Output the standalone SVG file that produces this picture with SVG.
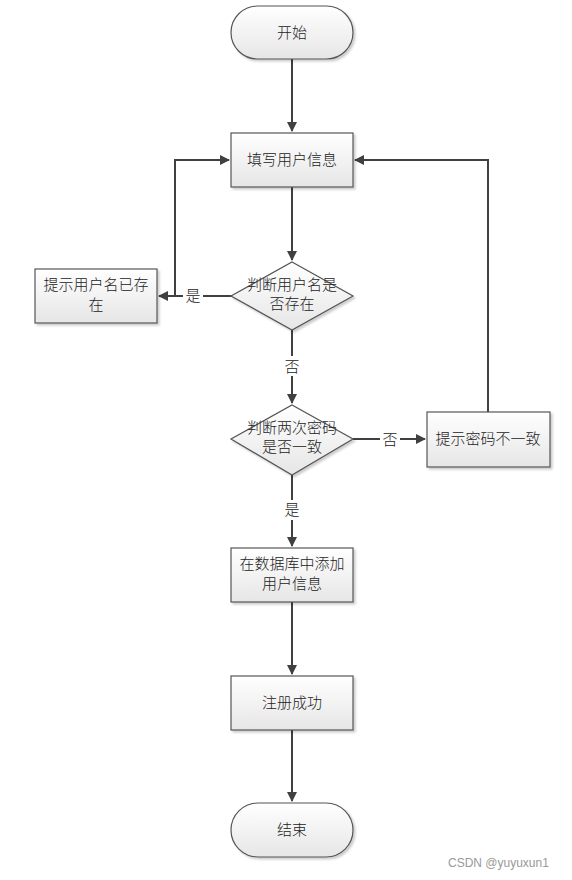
<svg xmlns="http://www.w3.org/2000/svg" width="572" height="880" viewBox="0 0 572 880">
<defs>
<linearGradient id="g" x1="0" y1="0" x2="0" y2="1">
<stop offset="0" stop-color="#ffffff"/>
<stop offset="1" stop-color="#e6e6e6"/>
</linearGradient>
<marker id="ah" markerWidth="10" markerHeight="10" refX="9" refY="5" orient="auto" markerUnits="userSpaceOnUse">
<path d="M0,0 L10,5 L0,10 Z" fill="#404040"/>
</marker>
<filter id="sh" x="-10%" y="-10%" width="130%" height="130%">
<feDropShadow dx="2" dy="2" stdDeviation="1" flood-color="#000" flood-opacity="0.2"/>
</filter>
</defs>
<style>
.n{fill:url(#g);stroke:#555;stroke-width:1.2;filter:url(#sh)}
.t{font-family:"Noto Sans CJK SC","Liberation Sans",sans-serif;font-size:15px;font-weight:300;fill:#222;text-anchor:middle}
.l{font-family:"Noto Sans CJK SC","Liberation Sans",sans-serif;font-size:15px;font-weight:300;fill:#222;text-anchor:middle}
.c{fill:none;stroke:#404040;stroke-width:2}
.w{font-family:"Liberation Sans",sans-serif;font-size:12px;fill:#999}
</style>
<rect width="572" height="880" fill="#fff"/>
<g id="connectors">
<path class="c" d="M292,59 V131" marker-end="url(#ah)"/>
<path class="c" d="M292,187 V260" marker-end="url(#ah)"/>
<path class="c" d="M232,296 H159" marker-end="url(#ah)"/>
<path class="c" d="M175,296 V160 H229" marker-end="url(#ah)"/>
<path class="c" d="M292,330 V403" marker-end="url(#ah)"/>
<path class="c" d="M353,439 H425" marker-end="url(#ah)"/>
<path class="c" d="M488,412 V160 H355" marker-end="url(#ah)"/>
<path class="c" d="M292,475 V546" marker-end="url(#ah)"/>
<path class="c" d="M292,602 V674" marker-end="url(#ah)"/>
<path class="c" d="M292,730 V801" marker-end="url(#ah)"/>
<rect x="183" y="286" width="20" height="20" fill="#fff"/>
<text class="l" x="193" y="301">是</text>
<rect x="282" y="356" width="20" height="20" fill="#fff"/>
<text class="l" x="292" y="372">否</text>
<rect x="380" y="429" width="20" height="20" fill="#fff"/>
<text class="l" x="390" y="445">否</text>
<rect x="282" y="500" width="20" height="20" fill="#fff"/>
<text class="l" x="292" y="515">是</text>
</g>
<g id="start">
<rect class="n" x="231" y="6" width="122" height="53" rx="26.5"/>
<text class="t" x="292" y="38">开始</text>
</g>
<g id="fill">
<rect class="n" x="231" y="133" width="122" height="54"/>
<text class="t" x="292" y="165">填写用户信息</text>
</g>
<g id="check-user">
<polygon class="n" points="292,262 353,296 292,330 231,296"/>
<text class="t" x="292" y="290">判断用户名是</text>
<text class="t" x="292" y="309">否存在</text>
</g>
<g id="user-exists">
<rect class="n" x="35" y="269" width="122" height="54"/>
<text class="t" x="96" y="290">提示用户名已存</text>
<text class="t" x="96" y="310">在</text>
</g>
<g id="check-pwd">
<polygon class="n" points="292,405 353,439 292,475 231,439"/>
<text class="t" x="292" y="433">判断两次密码</text>
<text class="t" x="292" y="452">是否一致</text>
</g>
<g id="pwd-mismatch">
<rect class="n" x="427" y="412" width="123" height="55"/>
<text class="t" x="488" y="444">提示密码不一致</text>
</g>
<g id="add-db">
<rect class="n" x="231" y="548" width="122" height="54"/>
<text class="t" x="292" y="569">在数据库中添加</text>
<text class="t" x="292" y="589">用户信息</text>
</g>
<g id="success">
<rect class="n" x="231" y="676" width="122" height="54"/>
<text class="t" x="292" y="708">注册成功</text>
</g>
<g id="end">
<rect class="n" x="231" y="803" width="122" height="54" rx="27"/>
<text class="t" x="292" y="835">结束</text>
</g>
<text class="w" x="448" y="867">CSDN @yuyuxun1</text>
</svg>
